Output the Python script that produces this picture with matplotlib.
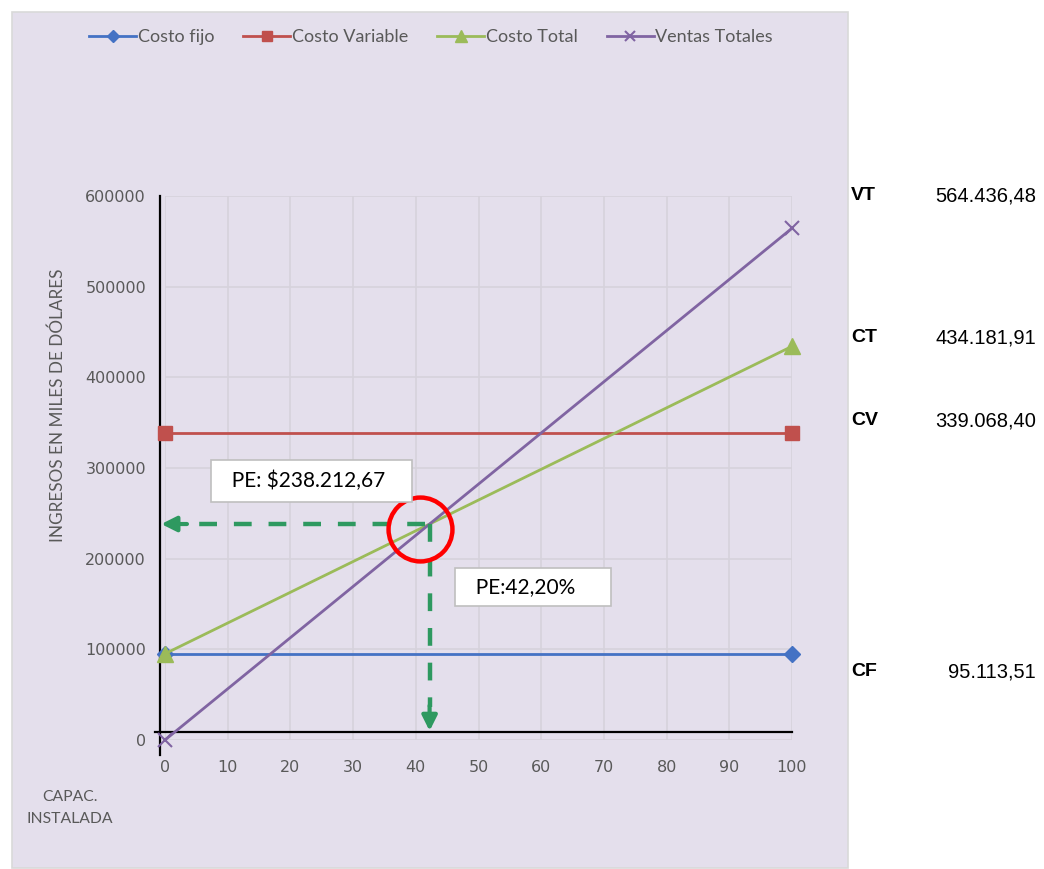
import numpy as np
import matplotlib.pyplot as plt
from matplotlib.patches import Rectangle

# capacidad instalada (%) y montos en dólares
capacidad = [0, 100]
costo_fijo = [95113.51, 95113.51]
costo_variable = [339068.40, 339068.40]
costo_total = [95113.51, 434181.91]
ventas_totales = [0, 564436.48]

pe_pct = 42.20
pe_valor = 238212.67

resumen_etq = ['VT', 'CT', 'CV', 'CF']
resumen_val = ['564.436,48', '434.181,91', '339.068,40', '95.113,51']
resumen_y = [196, 338, 421, 672]

gris = '#595959'
verde = '#2E9960'

fig = plt.figure(figsize=(10.44, 8.69), dpi=100)
W, H = 1044, 869

# panel de fondo del gráfico
fig.patches.append(Rectangle((12 / W, 1 / H), 836 / W, 856 / H, transform=fig.transFigure,
                             facecolor='#E4DFEC', edgecolor='#D9D9D9', lw=1.2, zorder=-5))

ax = fig.add_axes([165 / W, 1 - 740 / H, 627 / W, 544 / H])
ax.set_facecolor('none')
ax.set_xlim(0, 100)
ax.set_ylim(0, 600000)
ax.set_xticks(np.arange(0, 101, 10))
ax.set_yticks(np.arange(0, 600001, 100000))
ax.grid(True, color='#D6D2DC', lw=1.2)
ax.set_axisbelow(True)
ax.tick_params(length=0, labelsize=11.5, labelcolor=gris)
ax.tick_params(axis='x', pad=20)
ax.tick_params(axis='y', pad=10)
for lab in ax.get_xticklabels() + ax.get_yticklabels():
    lab.set_family('Lato')

for s in ['top', 'right']:
    ax.spines[s].set_visible(False)
ax.spines['left'].set_position(('data', -0.8))
ax.spines['bottom'].set_position(('data', 9000))
ax.spines['left'].set_bounds(-16000, 600000)
ax.spines['bottom'].set_bounds(-1.6, 100)
for s in ['left', 'bottom']:
    ax.spines[s].set_color('black')
    ax.spines[s].set_linewidth(1.6)

lw = 2.0
ax.plot(capacidad, costo_fijo, color='#4472C4', lw=lw, marker='D', ms=8, label='Costo fijo', clip_on=False, zorder=3)
ax.plot(capacidad, costo_variable, color='#C0504D', lw=lw, marker='s', ms=10, label='Costo Variable', clip_on=False, zorder=3)
ax.plot(capacidad, costo_total, color='#9BBB59', lw=lw, marker='^', ms=11, label='Costo Total', clip_on=False, zorder=3)
ax.plot(capacidad, ventas_totales, color='#8064A2', lw=lw, marker='x', ms=10, mew=1.5, label='Ventas Totales', clip_on=False, zorder=3)

# líneas punteadas hacia el punto de equilibrio
flecha = dict(arrowstyle='-|>,head_length=0.9,head_width=0.45', color=verde, lw=3, shrinkA=0, shrinkB=0)
ax.plot([pe_pct - 0.8, 3], [pe_valor, pe_valor], color=verde, lw=3.2, dashes=(4, 3.8), zorder=4, clip_on=False)
ax.annotate('', xy=(-0.6, pe_valor), xytext=(3.5, pe_valor), arrowprops=flecha,
            annotation_clip=False, zorder=4)
ax.plot([pe_pct, pe_pct], [pe_valor, 36000], color=verde, lw=3.2, dashes=(4, 3.8), zorder=4)
ax.annotate('', xy=(pe_pct, 10000), xytext=(pe_pct, 38000), arrowprops=flecha,
            annotation_clip=False, zorder=4)

# círculo sobre el punto de equilibrio
ax.plot([pe_pct - 1.6], [pe_valor - 6000], marker='o', ms=46, mfc='none', mec='#FF0000', mew=3.2, zorder=5)

ax.text(9.0, 285600, '  PE: $238.212,67   ', fontsize=15, family='Lato', color='black',
        bbox=dict(boxstyle='square,pad=0.5', facecolor='white', edgecolor='#BFBFBF', lw=1.2),
        va='center', ha='left', zorder=6)
ax.text(47.8, 168700, '  PE:42,20%     ', fontsize=15, family='Lato', color='black',
        bbox=dict(boxstyle='square,pad=0.45', facecolor='white', edgecolor='#BFBFBF', lw=1.2),
        va='center', ha='left', zorder=6)

fig.text(58 / W, 1 - 405 / H, 'INGRESOS EN MILES DE DÓLARES', rotation=90, ha='center', va='center',
         fontsize=12.3, family='Lato', color=gris)
fig.text(70 / W, 1 - 808 / H, 'CAPAC.\nINSTALADA', ha='center', va='center', fontsize=11.3,
         family='Lato', color=gris, linespacing=1.7)

for etq, val, yy in zip(resumen_etq, resumen_val, resumen_y):
    fig.text(851 / W, 1 - yy / H, etq, ha='left', va='center', fontsize=14,
             fontweight='bold', family='Liberation Sans', color='black')
    fig.text(1036 / W, 1 - yy / H, val, ha='right', va='center', fontsize=14.5,
             family='Liberation Sans', color='black')

fig.legend(loc='center', bbox_to_anchor=(431 / W, 1 - 37 / H), ncol=4, frameon=False,
           prop={'family': 'Lato', 'size': 13}, labelcolor=gris, handlelength=2.6,
           handletextpad=0.1, columnspacing=1.6, markerscale=0.75)

fig.savefig('out.png', dpi=100, facecolor='white')
